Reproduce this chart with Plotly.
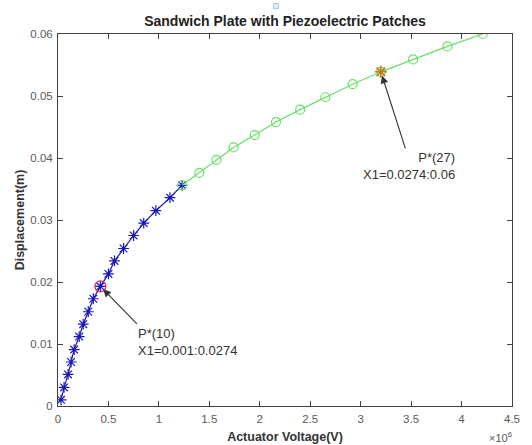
import plotly.graph_objects as go

# Actuator voltage (V) and displacement (m)
voltage = [0.03e6, 0.06e6, 0.10e6, 0.13e6, 0.16e6, 0.21e6, 0.25e6, 0.30e6, 0.35e6, 0.42e6,
           0.50e6, 0.56e6, 0.65e6, 0.75e6, 0.85e6, 0.97e6, 1.11e6, 1.23e6, 1.40e6, 1.57e6,
           1.74e6, 1.95e6, 2.16e6, 2.40e6, 2.65e6, 2.92e6, 3.20e6, 3.52e6, 3.86e6, 4.21e6]
displacement = [0.0010, 0.0030, 0.0051, 0.0071, 0.0091, 0.0112, 0.0132, 0.0152, 0.0173, 0.0193,
                0.0213, 0.0234, 0.0254, 0.0275, 0.0295, 0.0315, 0.0336, 0.0356, 0.0376, 0.0397,
                0.0417, 0.0437, 0.0458, 0.0478, 0.0498, 0.0519, 0.0539, 0.0559, 0.0580, 0.0600]

blue_idx = list(range(0, 18))     # first segment (stars)
green_idx = list(range(17, 30))   # second segment (circles)
p1 = 9    # P*(10)
p2 = 26   # P*(27)

x_ticks = [0, 0.5e6, 1e6, 1.5e6, 2e6, 2.5e6, 3e6, 3.5e6, 4e6, 4.5e6]
x_ticktext = ["0", "0.5", "1", "1.5", "2", "2.5", "3", "3.5", "4", "4.5"]
y_ticks = [0, 0.01, 0.02, 0.03, 0.04, 0.05, 0.06]
y_ticktext = ["0", "0.01", "0.02", "0.03", "0.04", "0.05", "0.06"]

label1 = ["P*(10)", "X1=0.001:0.0274"]
label2 = ["P*(27)", "X1=0.0274:0.06"]

FONT = "Liberation Sans, Arial"
BLUE = "#1818b8"
GREEN = "#66e066"
fig = go.Figure()
fig.add_trace(go.Scatter(
    x=[voltage[i] for i in blue_idx], y=[displacement[i] for i in blue_idx],
    mode="lines+markers",
    line=dict(color=BLUE, width=1.2),
    marker=dict(symbol="asterisk-open", size=9, color=BLUE, line=dict(color=BLUE, width=1.2)),
    showlegend=False))
fig.add_trace(go.Scatter(
    x=[voltage[i] for i in green_idx], y=[displacement[i] for i in green_idx],
    mode="lines+markers",
    line=dict(color=GREEN, width=1.2),
    marker=dict(symbol="circle-open", size=9, color=GREEN, line=dict(color=GREEN, width=1.2)),
    showlegend=False))
fig.add_trace(go.Scatter(
    x=[voltage[p1]], y=[displacement[p1]], mode="markers",
    marker=dict(symbol="circle-open", size=11, color="#d8307a",
                line=dict(color="#d8307a", width=1.3)),
    showlegend=False))
fig.add_trace(go.Scatter(
    x=[voltage[p2]], y=[displacement[p2]], mode="markers",
    marker=dict(symbol="asterisk-open", size=10, color="#c87a20",
                line=dict(color="#c87a20", width=1.6)),
    showlegend=False))

axis_common = dict(
    showgrid=False, zeroline=False, showline=True, linecolor="#404040", linewidth=1,
    mirror="ticks", ticks="inside", ticklen=5, tickcolor="#404040", automargin=False,
    tickfont=dict(family=FONT, size=11.5, color="#5a5a5a"))

fig.update_xaxes(range=[0, 4.5e6], tickvals=x_ticks, ticktext=x_ticktext,
                 ticklabelstandoff=2,
                 title=dict(text="<b>Actuator Voltage(V)</b>", standoff=8,
                            font=dict(family=FONT, size=12.5, color="#333333")),
                 **axis_common)
fig.update_yaxes(range=[0, 0.06], tickvals=y_ticks, ticktext=y_ticktext,
                 ticklabelstandoff=2,
                 title=dict(text="<b>Displacement(m)</b>", standoff=2,
                            font=dict(family=FONT, size=12.5, color="#333333")),
                 **axis_common)

ann_font = dict(family=FONT, size=13, color="#333333")
annotations = [
    dict(x=voltage[p1], y=displacement[p1], xref="x", yref="y", text="",
         showarrow=True, ax=38, ay=39, axref="pixel", ayref="pixel",
         arrowhead=2, arrowsize=1.4, arrowwidth=1.1, arrowcolor="#333333", standoff=4),
    dict(x=voltage[p1], y=displacement[p1], xref="x", yref="y",
         text="<br>".join(label1), showarrow=False, align="left",
         xanchor="left", yanchor="top", xshift=36, yshift=-38, font=ann_font),
    dict(x=voltage[p2], y=displacement[p2], xref="x", yref="y", text="",
         showarrow=True, ax=25, ay=78, axref="pixel", ayref="pixel",
         arrowhead=2, arrowsize=1.4, arrowwidth=1.1, arrowcolor="#333333", standoff=4),
    dict(x=voltage[p2], y=displacement[p2], xref="x", yref="y",
         text="<br>".join(label2), showarrow=False, align="right",
         xanchor="right", yanchor="top", xshift=76, yshift=-76, font=ann_font),
    dict(x=1.0, y=0, xref="paper", yref="paper", text="\u00d710<sup>6</sup>",
         showarrow=False, xanchor="right", yanchor="middle", xshift=2, yshift=-31,
         font=dict(family=FONT, size=11, color="#555555")),
]

fig.update_layout(
    width=532, height=445,
    margin=dict(l=58, r=20, t=34, b=39, autoexpand=False),
    paper_bgcolor="white", plot_bgcolor="white",
    title=dict(text="<b>Sandwich Plate with Piezoelectric Patches</b>",
               x=0.5, xref="paper", xanchor="center", y=1, yref="paper", yanchor="bottom",
               pad=dict(b=8),
               font=dict(family=FONT, size=14, color="#222222")),
    annotations=annotations,
    shapes=[dict(type="rect", xref="paper", yref="paper",
                 x0=0.475, x1=0.485, y0=1.068, y1=1.082,
                 line=dict(color="#9cc3e6", width=1), fillcolor="#e8f1fa")],
)

fig.write_html("out.html", config={"displayModeBar": False},
               post_script="document.body.style.margin='0';")
